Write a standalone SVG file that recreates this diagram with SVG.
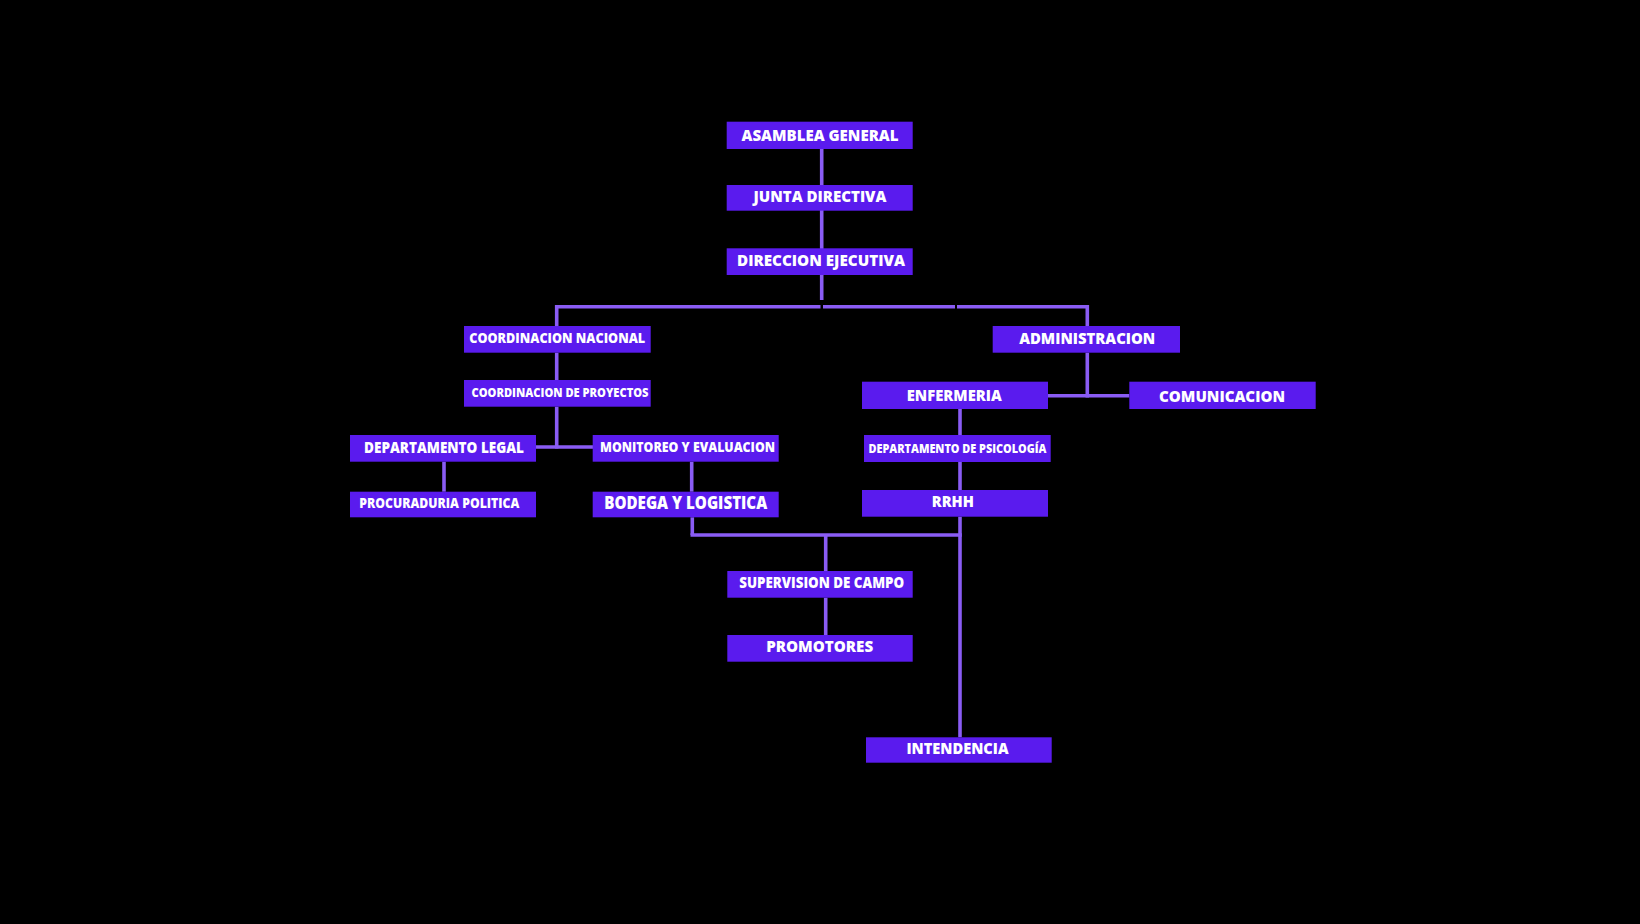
<svg xmlns="http://www.w3.org/2000/svg" width="1640" height="924" viewBox="0 0 1640 924">
<style>
.bg{fill:#000000}
.box{fill:#5a1bee}
.ln{stroke:#8a5cf4;stroke-width:3.6;fill:none;stroke-linecap:butt}
text{font-family:"Open Sans","Liberation Sans",sans-serif;font-weight:800;fill:#ffffff;text-anchor:middle}
</style>
<rect class="bg" x="0" y="0" width="1640" height="924"/>
<g id="connectors">
<line class="ln" x1="821.7" y1="149" x2="821.7" y2="300"/>
<line class="ln" x1="555" y1="306.7" x2="820.5" y2="306.7"/>
<line class="ln" x1="823" y1="306.7" x2="955" y2="306.7"/>
<line class="ln" x1="957" y1="306.7" x2="1089" y2="306.7"/>
<line class="ln" x1="556.7" y1="305" x2="556.7" y2="326"/>
<line class="ln" x1="1087.3" y1="305" x2="1087.3" y2="326"/>
<line class="ln" x1="556.7" y1="352.7" x2="556.7" y2="380"/>
<line class="ln" x1="556.7" y1="406.7" x2="556.7" y2="448.5"/>
<line class="ln" x1="536" y1="447" x2="593" y2="447"/>
<line class="ln" x1="444" y1="461.7" x2="444" y2="491.7"/>
<line class="ln" x1="691.7" y1="461.7" x2="691.7" y2="491.7"/>
<line class="ln" x1="1087.3" y1="352.7" x2="1087.3" y2="397.5"/>
<line class="ln" x1="1048" y1="395.7" x2="1129.3" y2="395.7"/>
<line class="ln" x1="960" y1="409" x2="960" y2="435"/>
<line class="ln" x1="960" y1="462" x2="960" y2="490"/>
<line class="ln" x1="692.3" y1="517.3" x2="692.3" y2="535"/>
<line class="ln" x1="690.5" y1="535" x2="961.8" y2="535"/>
<line class="ln" x1="960" y1="516.7" x2="960" y2="737.3"/>
<line class="ln" x1="825.7" y1="535" x2="825.7" y2="571"/>
<line class="ln" x1="825.7" y1="597.7" x2="825.7" y2="635"/>
</g>
<g id="asamblea-general"><rect class="box" x="726.7" y="121.7" width="186" height="27.3"/><text x="820" y="141" font-size="16" textLength="157" lengthAdjust="spacingAndGlyphs">ASAMBLEA GENERAL</text></g>
<g id="junta-directiva"><rect class="box" x="726.7" y="185" width="186" height="25.7"/><text x="820" y="201.7" font-size="16" textLength="133" lengthAdjust="spacingAndGlyphs">JUNTA DIRECTIVA</text></g>
<g id="direccion-ejecutiva"><rect class="box" x="726.7" y="248.3" width="186" height="26.7"/><text x="821" y="265.7" font-size="16" textLength="168" lengthAdjust="spacingAndGlyphs">DIRECCION EJECUTIVA</text></g>
<g id="coordinacion-nacional"><rect class="box" x="464" y="326" width="186.7" height="26.7"/><text x="557.2" y="343.3" font-size="13.5" textLength="176" lengthAdjust="spacingAndGlyphs">COORDINACION NACIONAL</text></g>
<g id="coordinacion-proyectos"><rect class="box" x="464" y="380" width="186.7" height="26.7"/><text x="560" y="396.7" font-size="12.5" textLength="177" lengthAdjust="spacingAndGlyphs">COORDINACION DE PROYECTOS</text></g>
<g id="departamento-legal"><rect class="box" x="350" y="435" width="186" height="26.7"/><text x="444" y="453.3" font-size="16" textLength="160" lengthAdjust="spacingAndGlyphs">DEPARTAMENTO LEGAL</text></g>
<g id="monitoreo-evaluacion"><rect class="box" x="592.7" y="435" width="186" height="26.7"/><text x="687.5" y="451.7" font-size="13.5" textLength="175" lengthAdjust="spacingAndGlyphs">MONITOREO Y EVALUACION</text></g>
<g id="procuraduria-politica"><rect class="box" x="350" y="491.7" width="186" height="25.6"/><text x="439.3" y="508.3" font-size="13.5" textLength="160" lengthAdjust="spacingAndGlyphs">PROCURADURIA POLITICA</text></g>
<g id="bodega-logistica"><rect class="box" x="592.7" y="491.7" width="186" height="25.6"/><text x="685.7" y="509.3" font-size="17.5" textLength="163" lengthAdjust="spacingAndGlyphs">BODEGA Y LOGISTICA</text></g>
<g id="administracion"><rect class="box" x="992.7" y="326" width="187.3" height="26.7"/><text x="1087.2" y="344.3" font-size="16" textLength="136" lengthAdjust="spacingAndGlyphs">ADMINISTRACION</text></g>
<g id="enfermeria"><rect class="box" x="862" y="381.7" width="186" height="27.3"/><text x="954.2" y="400.7" font-size="16" textLength="95" lengthAdjust="spacingAndGlyphs">ENFERMERIA</text></g>
<g id="comunicacion"><rect class="box" x="1129.3" y="381.7" width="186.4" height="27.3"/><text x="1222" y="402.3" font-size="16" textLength="126" lengthAdjust="spacingAndGlyphs">COMUNICACION</text></g>
<g id="departamento-psicologia"><rect class="box" x="864" y="435" width="186.7" height="27"/><text x="957.5" y="452.7" font-size="12" textLength="178" lengthAdjust="spacingAndGlyphs">DEPARTAMENTO DE PSICOLOGÍA</text></g>
<g id="rrhh"><rect class="box" x="862" y="490" width="186" height="26.7"/><text x="952.8" y="507.3" font-size="16" textLength="42" lengthAdjust="spacingAndGlyphs">RRHH</text></g>
<g id="supervision-campo"><rect class="box" x="727.3" y="571" width="185.4" height="26.7"/><text x="821.7" y="588.3" font-size="15" textLength="165" lengthAdjust="spacingAndGlyphs">SUPERVISION DE CAMPO</text></g>
<g id="promotores"><rect class="box" x="727.3" y="635" width="185.4" height="26.7"/><text x="819.7" y="652.3" font-size="16" textLength="107" lengthAdjust="spacingAndGlyphs">PROMOTORES</text></g>
<g id="intendencia"><rect class="box" x="866" y="737.3" width="185.7" height="25.4"/><text x="957.5" y="754" font-size="16" textLength="102" lengthAdjust="spacingAndGlyphs">INTENDENCIA</text></g>
</svg>
